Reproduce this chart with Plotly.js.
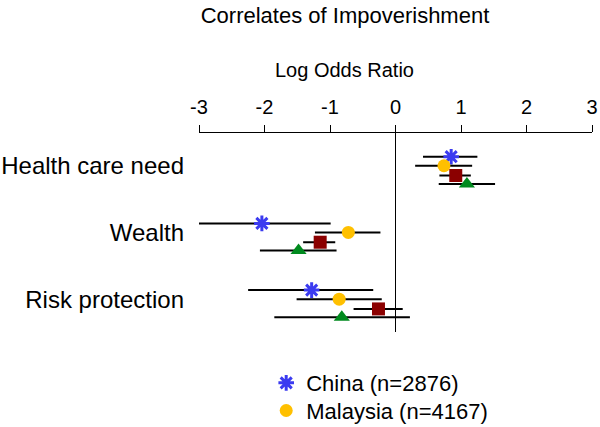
<!DOCTYPE html>
<html>
<head>
<meta charset="utf-8">
<script src="https://cdn.plot.ly/plotly-3.0.1.min.js"></script>
<style>
  body { margin: 0; background: #fff; }
  #chart { width: 600px; height: 427px; }
</style>
</head>
<body>
<div id="chart"></div>
<script>
// Categories (top to bottom)
const categories = ['Health care need', 'Wealth', 'Risk protection'];

// Series names (only the first two show in the visible legend)
const seriesNames = ['China (n=2876)', 'Malaysia (n=4167)', 'Country 3', 'Country 4'];

// Log odds ratio estimates, per series, per category
const chinaEst = [0.85, -2.04, -1.28];
const chinaLow = [0.42, -3.01, -2.25];
const chinaHigh = [1.25, -0.99, -0.34];

const malaysiaEst = [0.74, -0.72, -0.86];
const malaysiaLow = [0.30, -1.23, -1.51];
const malaysiaHigh = [1.17, -0.23, -0.21];

const thirdEst = [0.92, -1.15, -0.26];
const thirdLow = [0.67, -1.41, -0.64];
const thirdHigh = [1.15, -0.92, 0.11];

const fourthEst = [1.09, -1.48, -0.82];
const fourthLow = [0.66, -2.07, -1.85];
const fourthHigh = [1.52, -0.90, 0.22];

const xTicks = [-3, -2, -1, 0, 1, 2, 3];

// vertical offset of each series inside a category row
const rowOffsets = [-0.204, -0.068, 0.078, 0.204];

const series = [
    {est: chinaEst, low: chinaLow, high: chinaHigh, color: '#3b3bf0', symbol: 'asterisk-open', size: 13, legend: 'legend'},
    {est: malaysiaEst, low: malaysiaLow, high: malaysiaHigh, color: '#ffc000', symbol: 'circle', size: 13, legend: 'legend2'},
    {est: thirdEst, low: thirdLow, high: thirdHigh, color: '#8b0000', symbol: 'square', size: 13, legend: null},
    {est: fourthEst, low: fourthLow, high: fourthHigh, color: '#008a1e', symbol: 'triangle-up', size: 14, legend: null}
];

const traces = series.map((s, k) => {
    const t = {
        type: 'scatter',
        mode: 'markers',
        name: seriesNames[k],
        showlegend: s.legend !== null,
        x: s.est,
        y: categories.map((c, i) => i + rowOffsets[k]),
        error_x: {
            type: 'data',
            symmetric: false,
            array: s.est.map((v, i) => s.high[i] - v),
            arrayminus: s.est.map((v, i) => v - s.low[i]),
            color: '#000000',
            thickness: 2,
            width: 0
        },
        marker: {
            symbol: s.symbol,
            size: s.size,
            color: s.color,
            line: s.symbol === 'asterisk-open' ? {color: s.color, width: 3} : {width: 0}
        }
    };
    if (s.legend) t.legend = s.legend;
    return t;
});

const legendStyle = {
    x: 0.171, xanchor: 'left',
    yanchor: 'top',
    font: {size: 22},
    bgcolor: 'rgba(0,0,0,0)',
    borderwidth: 0
};

const layout = {
    width: 600,
    height: 427,
    margin: {l: 199, r: 8, t: 133, b: 95, autoexpand: false},
    paper_bgcolor: '#ffffff',
    plot_bgcolor: '#ffffff',
    font: {family: 'Liberation Sans, Arial, sans-serif', color: '#000000', size: 20},
    title: {
        text: 'Correlates of Impoverishment',
        font: {size: 22, color: '#000000'},
        xref: 'container', x: 0.575, xanchor: 'center',
        yref: 'container', y: 0.965, yanchor: 'middle'
    },
    xaxis: {
        side: 'top',
        range: [-3, 3],
        tickvals: xTicks,
        ticktext: xTicks.map(String),
        ticks: 'outside',
        ticklen: 7,
        tickcolor: '#000000',
        showline: true,
        linecolor: '#000000',
        linewidth: 1,
        showgrid: false,
        zeroline: true,
        zerolinecolor: '#000000',
        zerolinewidth: 1,
        tickfont: {size: 20},
        ticklabelstandoff: 3,
        fixedrange: true
    },
    yaxis: {
        range: [2.424, -0.559],
        tickvals: categories.map((c, i) => i - 0.065),
        ticktext: categories,
        ticks: '',
        showline: false,
        showgrid: false,
        zeroline: false,
        tickfont: {size: 24},
        ticklabelstandoff: 14,
        fixedrange: true
    },
    showlegend: true,
    legend: Object.assign({}, legendStyle, {y: -0.151}),
    legend2: Object.assign({}, legendStyle, {y: -0.290}),
    annotations: [{
        text: 'Log Odds Ratio',
        xref: 'paper', x: 0.371, xanchor: 'center',
        yref: 'paper', y: 1.317, yanchor: 'middle',
        showarrow: false,
        font: {size: 20, color: '#000000'}
    }]
};

Plotly.newPlot('chart', traces, layout, {displayModeBar: false, staticPlot: true});
</script>
</body>
</html>
